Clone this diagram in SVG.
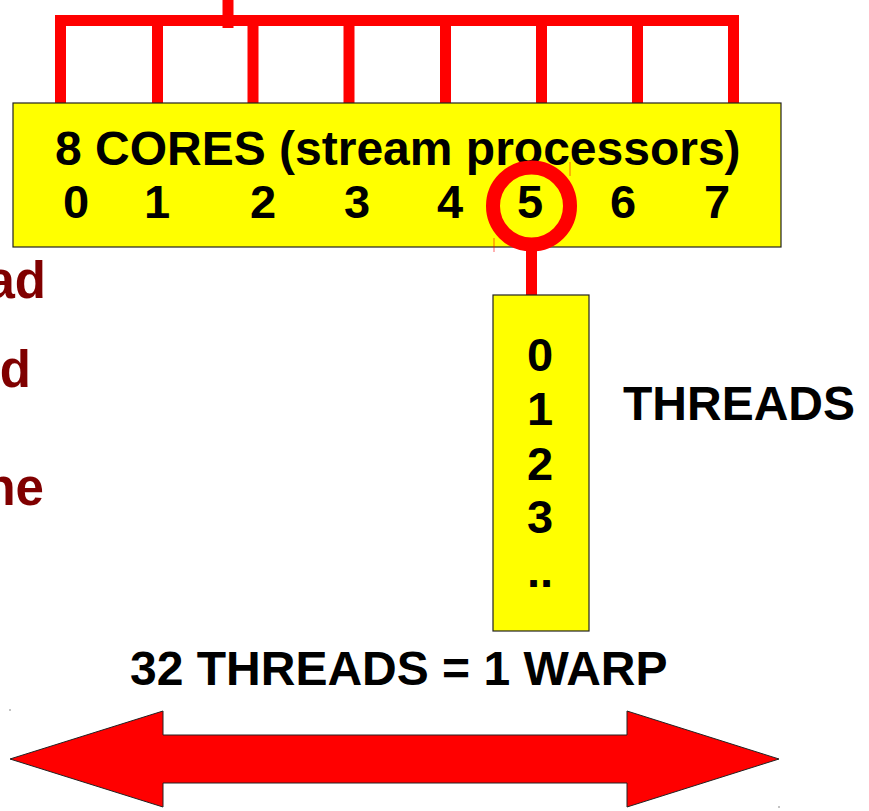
<svg xmlns="http://www.w3.org/2000/svg" width="869" height="811" viewBox="0 0 869 811">
<style>
.box{fill:#ffff00;stroke:#222;stroke-width:1.2}
.t{font-family:"Liberation Sans",Arial,sans-serif;font-weight:bold;fill:#000;font-size:47px}
.w{font-size:48px}
.m{font-family:"Liberation Sans",Arial,sans-serif;font-weight:bold;fill:#800000;font-size:51px;text-anchor:end}
.c{text-anchor:middle}
.red{stroke:#ff0000;fill:none}
</style>
<rect width="869" height="811" fill="#fff"/>
<g id="connectors">
<path class="red" stroke-width="11" d="M60.5,103 V20.5 H733.5 V103 M157.5,20.5 V103 M253,20.5 V103 M349,20.5 V103 M445.5,20.5 V103 M541.5,20.5 V103 M637.5,20.5 V103"/>
<path class="red" stroke-width="11" d="M228,0 V28"/>
<path class="red" stroke-width="11" d="M531.5,240 V295"/>
</g>
<g id="cores">
<rect class="box" x="13" y="103" width="768" height="144"/>
<text class="t w" x="55" y="165">8 CORES (stream processors)</text>
<text class="t c" x="76" y="218">0</text>
<text class="t c" x="157" y="218">1</text>
<text class="t c" x="263" y="218">2</text>
<text class="t c" x="357" y="218">3</text>
<text class="t c" x="450" y="218">4</text>
<text class="t c" x="530" y="218">5</text>
<text class="t c" x="623" y="218">6</text>
<text class="t c" x="717" y="218">7</text>
</g>
<g id="highlight">
<circle class="red" cx="531.5" cy="206" r="38.5" stroke-width="14"/>
<line x1="494" y1="238" x2="494" y2="252" stroke="#ff0000" stroke-width="1" opacity="0.6"/>
<line x1="570" y1="162" x2="570" y2="176" stroke="#ff0000" stroke-width="1" opacity="0.6"/>
</g>
<g id="threads">
<rect class="box" x="493" y="295" width="96" height="336"/>
<text class="t c" x="540" y="371">0</text>
<text class="t c" x="540" y="425">1</text>
<text class="t c" x="540" y="480">2</text>
<text class="t c" x="540" y="533">3</text>
<text class="t c" x="540" y="587">..</text>
</g>
<g id="threads-label">
<text class="t w" x="623" y="420">THREADS</text>
</g>
<g id="left-text">
<text class="m" x="46" y="298">ad</text>
<text class="m" x="31" y="387">d</text>
<text class="m" x="44" y="505">ne</text>
</g>
<g id="warp-label">
<text class="t w" x="130" y="685">32 THREADS = 1 WARP</text>
</g>
<g id="warp-arrow">
<path d="M10,759 L163,711 V735 H627 V711 L779,759 L627,807 V783 H163 V807 Z" fill="#ff0000" stroke="#222" stroke-width="1"/>
<line x1="10" y1="709" x2="10" y2="711" stroke="#888" stroke-width="1"/>
<line x1="779" y1="806" x2="779" y2="808" stroke="#888" stroke-width="1"/>
</g>
</svg>
